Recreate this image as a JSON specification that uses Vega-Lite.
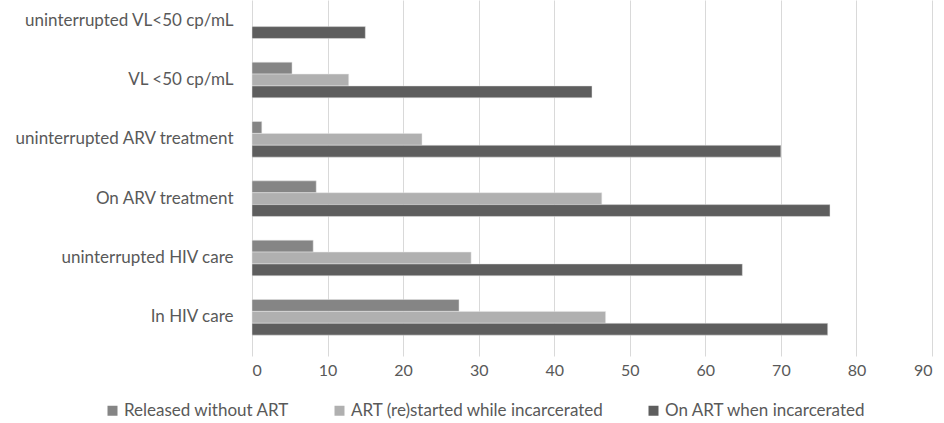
{
  "$schema": "https://vega.github.io/schema/vega-lite/v6.json",
  "autosize": {"type": "none"},
  "width": 680,
  "height": 347,
  "padding": {"left": 252, "top": 0, "right": 12, "bottom": 76},
  "background": "#ffffff",
  "config": {
    "view": {"stroke": null},
    "font": "Lato",
    "axis": {"labelFont": "Lato", "labelColor": "#595959", "labelFontSize": 17}
  },
  "data": {
    "values": [
      {"measure": "uninterrupted VL<50 cp/mL", "group": "On ART when incarcerated", "value": 15.0},
      {"measure": "VL <50 cp/mL", "group": "Released without ART", "value": 5.3},
      {"measure": "VL <50 cp/mL", "group": "ART (re)started while incarcerated", "value": 12.8},
      {"measure": "VL <50 cp/mL", "group": "On ART when incarcerated", "value": 45.0},
      {"measure": "uninterrupted ARV treatment", "group": "Released without ART", "value": 1.3},
      {"measure": "uninterrupted ARV treatment", "group": "ART (re)started while incarcerated", "value": 22.5},
      {"measure": "uninterrupted ARV treatment", "group": "On ART when incarcerated", "value": 70.0},
      {"measure": "On ARV treatment", "group": "Released without ART", "value": 8.5},
      {"measure": "On ARV treatment", "group": "ART (re)started while incarcerated", "value": 46.3},
      {"measure": "On ARV treatment", "group": "On ART when incarcerated", "value": 76.5},
      {"measure": "uninterrupted HIV care", "group": "Released without ART", "value": 8.1},
      {"measure": "uninterrupted HIV care", "group": "ART (re)started while incarcerated", "value": 29.0},
      {"measure": "uninterrupted HIV care", "group": "On ART when incarcerated", "value": 64.9},
      {"measure": "In HIV care", "group": "Released without ART", "value": 27.4},
      {"measure": "In HIV care", "group": "ART (re)started while incarcerated", "value": 46.8},
      {"measure": "In HIV care", "group": "On ART when incarcerated", "value": 76.2}
    ]
  },
  "mark": {"type": "bar", "stroke": "#e6e6e6", "strokeWidth": 0.5},
  "encoding": {
    "y": {
      "field": "measure",
      "type": "nominal",
      "sort": ["uninterrupted VL<50 cp/mL", "VL <50 cp/mL", "uninterrupted ARV treatment", "On ARV treatment", "uninterrupted HIV care", "In HIV care"],
      "scale": {"range": [-9, 347], "paddingInner": 0.4, "paddingOuter": 0.2},
      "axis": {"title": null, "ticks": false, "domain": false, "labelPadding": 19, "labelLimit": 300}
    },
    "yOffset": {
      "field": "group",
      "type": "nominal",
      "sort": ["Released without ART", "ART (re)started while incarcerated", "On ART when incarcerated"],
      "scale": {"paddingInner": 0, "paddingOuter": 0}
    },
    "x": {
      "field": "value",
      "type": "quantitative",
      "scale": {"domain": [0, 90], "nice": false},
      "axis": {"title": null, "values": [0, 10, 20, 30, 40, 50, 60, 70, 80, 90], "ticks": false, "domain": false, "grid": true, "gridColor": "#d9d9d9", "gridWidth": 1, "labelPadding": 15, "labelFontSize": 16}
    },
    "color": {
      "field": "group",
      "type": "nominal",
      "sort": ["Released without ART", "ART (re)started while incarcerated", "On ART when incarcerated"],
      "scale": {"domain": ["Released without ART", "ART (re)started while incarcerated", "On ART when incarcerated"], "range": ["#858585", "#b0b0b0", "#5e5e5e"]},
      "legend": {
        "title": null,
        "orient": "none",
        "direction": "horizontal",
        "legendX": -148,
        "legendY": 402,
        "symbolType": "square",
        "symbolSize": 100,
        "symbolStrokeWidth": 0,
        "labelFont": "Lato",
        "labelFontSize": 17,
        "labelColor": "#595959",
        "labelOffset": 3,
        "columnPadding": 41,
        "labelLimit": 400
      }
    }
  }
}
